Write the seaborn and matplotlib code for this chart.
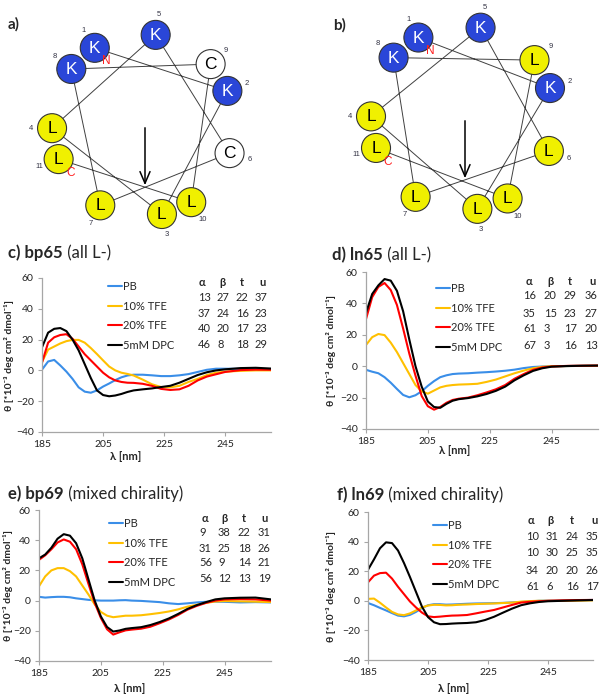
import numpy as np
import pandas as pd
import matplotlib
matplotlib.use("Agg")
import matplotlib.pyplot as plt
from matplotlib.patches import Circle
from matplotlib.lines import Line2D
import seaborn as sns

# ---------------- data ----------------
wavelength = [185, 187, 189, 191, 193, 195, 197, 199, 201, 203, 205, 207, 209, 211, 213,
              215, 218, 221, 224, 227, 230, 233, 236, 239, 242, 245, 250, 255, 260]
conditions = ["PB", "10% TFE", "20% TFE", "5mM DPC"]
cond_colors = ["#3a8ee8", "#ffc000", "#ff0000", "#000000"]

bp65_pb = [0.5, 5.8, 6.8, 3.2, -0.8, -5.5, -11, -13.8, -14.5, -13, -10.5, -8.5, -6.3, -4.5, -3.3,
           -2.8, -2.8, -3.2, -3.7, -3.7, -3.2, -2.4, -1, 0.4, 1.1, 1.1, 1, 0.9, 0.8]
bp65_tfe10 = [5.5, 13.5, 15.5, 17.5, 19, 19.8, 19.8, 18, 14.5, 10.6, 6.5, 2.5, 0, -1.5, -2.3,
              -3.3, -6, -9, -10.8, -11, -10, -7.5, -5.5, -3, -1.5, -0.8, -0.3, 0, 0]
bp65_tfe20 = [5, 18, 21.5, 23, 23.5, 20.5, 15.5, 10.5, 6.5, 2.5, -1.5, -4.5, -6.5, -7.5, -8,
              -8.1, -8.7, -10, -12, -12.7, -12.3, -10, -6.5, -4, -2.5, -1, 0.2, 0.5, 0.4]
bp65_dpc = [15, 24.5, 27, 27.5, 25.5, 20, 13, 4, -5, -13, -16, -16.8, -16.3, -15.3, -14,
            -13, -12.3, -11.7, -10.8, -10, -8, -5.5, -3, -1.2, 0, 0.7, 1.5, 1.7, 1.2]

ln65_pb = [-2.3, -3.5, -4.5, -7, -10.5, -14.5, -18.3, -19.8, -18.5, -16, -12.5, -9.5, -7, -5.8, -5,
           -4.7, -4.5, -4.1, -3.8, -3.4, -2.9, -2.2, -1.2, -0.5, -0.2, 0, 0.1, 0.2, 0.3]
ln65_tfe10 = [13.5, 18.5, 20.5, 19.8, 15, 9, 2, -5, -12, -16, -17.5, -15.5, -13.5, -12.5, -12,
              -11.7, -11.5, -11.2, -10, -8.5, -6.5, -4.5, -2.8, -1.3, -0.4, 0, 0.1, 0.2, 0.3]
ln65_tfe20 = [30, 44, 50.5, 53, 48.5, 39, 24, 8, -6, -19, -25.5, -27.7, -26, -23.3, -21.5,
              -20.7, -20, -18.5, -16.7, -14.7, -12, -8, -5, -2.3, -0.8, -0.2, 0.2, 0.3, 0.4]
ln65_dpc = [34, 46, 51.5, 55.5, 54.5, 48, 35, 17, 0, -13, -22.5, -26, -26.5, -24, -22,
            -21, -20.3, -19.2, -17.7, -15.7, -13, -9, -5.8, -3, -1.3, -0.3, 0.1, 0.3, 0.4]

bp69_pb = [2.5, 2, 2.3, 2.5, 2.5, 2.2, 1.5, 1, 0.5, 0.2, 0, 0, 0, 0.2, 0.3,
           0, -0.2, -0.6, -1, -1.8, -2.3, -1.8, -1.2, -0.8, -0.7, -0.8, -1.2, -1, -1.2]
bp69_tfe10 = [9.5, 16, 20, 21.5, 21.5, 19.5, 16, 10, 4, -2.5, -7.5, -10, -11, -10.5, -10,
              -10, -9.7, -9, -8.2, -7.2, -5.8, -4, -2.8, -1.5, -0.6, -0.3, -0.5, -0.7, -1]
bp69_tfe20 = [27, 30, 34, 38.5, 40.5, 39, 34, 24, 11, -1.5, -11.5, -19, -22.5, -21, -19.7,
              -19.2, -18.6, -17.3, -15, -12.5, -9.5, -6, -3.5, -1.5, 0, 0.8, 1, 0.8, 0]
bp69_dpc = [28, 30.5, 35, 41, 44, 43, 38, 28, 14, 0, -10.5, -17.5, -20.5, -19.8, -18.7,
            -18.2, -17.6, -16.2, -14.2, -11.8, -8.8, -5.5, -3, -1, 0.8, 1.5, 1.9, 2, 0.8]

ln69_pb = [-1.5, -3, -4.8, -6.5, -8.3, -10, -10.5, -9.5, -7.5, -4.8, -3, -2.3, -2.3, -2.6, -2.5,
           -2.3, -2, -1.8, -1.7, -1.6, -1.4, -1.1, -0.8, -0.4, 0, 0.1, 0.3, 0.4, 0.6]
ln69_tfe10 = [1.3, 1.5, -1.3, -4.5, -7.5, -9.2, -9.7, -8.5, -6.5, -4.5, -3.2, -2.7, -2.8, -3.1, -3,
              -2.7, -2.5, -2.2, -2, -1.8, -1.5, -1.2, -0.6, -0.2, 0, 0, 0, 0.1, 0.3]
ln69_tfe20 = [12.5, 17, 18.7, 19, 15, 9.5, 4.5, -0.5, -4.5, -8, -10.5, -11, -10.7, -10.3, -10,
              -9.9, -9.6, -8.5, -7.3, -6.2, -4.5, -2.8, -1.2, -0.7, -0.3, 0, 0.3, 0.5, 0.6]
ln69_dpc = [21, 28, 35.5, 39.5, 39, 34, 25.5, 16, 6, -4, -11, -14.5, -15.8, -15.7, -15.4,
            -15.2, -15, -14.5, -13, -10.8, -8, -5.3, -3, -1.7, -0.8, -0.3, 0, 0.3, 0.5]

table_header = ["α", "β", "t", "u"]
bp65_table = [[13, 27, 22, 37], [37, 24, 16, 23], [40, 20, 17, 23], [46, 8, 18, 29]]
ln65_table = [[16, 20, 29, 36], [35, 15, 23, 27], [61, 3, 17, 20], [67, 3, 16, 13]]
bp69_table = [[9, 38, 22, 31], [31, 25, 18, 26], [56, 9, 14, 21], [56, 12, 13, 19]]
ln69_table = [[10, 31, 24, 35], [10, 30, 25, 35], [34, 20, 20, 26], [61, 6, 16, 17]]

wheel_a_residues = ["K", "K", "L", "L", "K", "C", "L", "K", "C", "L", "L"]
wheel_b_residues = ["K", "K", "L", "L", "K", "L", "L", "K", "L", "L", "L"]
residue_fill = {"K": "#2a46d8", "L": "#f0f000", "C": "#ffffff"}
residue_text = {"K": "white", "L": "black", "C": "black"}

x_ticks = [185, 205, 225, 245]
y_ticks = [-40, -20, 0, 20, 40, 60]
ylabel_text = "θ [*10⁻³ deg cm² dmol⁻¹]"
xlabel_text = "λ [nm]"

# ---------------- style ----------------
sns.set_theme(style="white")
FONT = ["Lato", "DejaVu Sans"]
plt.rcParams["font.family"] = FONT

W, H = 600, 695
fig = plt.figure(figsize=(W / 100, H / 100), dpi=100)


def fx(x):
    return x / W


def fy(y):
    return 1 - y / H


# background axes in pixel coordinates for the helical wheels
bg = fig.add_axes([0, 0, 1, 1])
bg.set_xlim(0, W)
bg.set_ylim(H, 0)
bg.axis("off")


def draw_wheel(ax, residues, cx, cy, R, start, tag, tag_xy):
    n = len(residues)
    idx = np.arange(n)
    ang = np.deg2rad(start + 100 * idx)
    xs = cx + R * np.sin(ang)
    ys = cy - R * np.cos(ang)
    ax.plot(xs, ys, color="#404040", lw=0.7, zorder=1)
    for i in idx:
        res = residues[i]
        ax.add_patch(Circle((xs[i], ys[i]), 14.5, facecolor=residue_fill[res],
                            edgecolor="#333333", lw=0.8, zorder=2))
        ax.text(xs[i], ys[i] + 0.5, res, ha="center", va="center", fontsize=12.5,
                color=residue_text[res], family="Liberation Sans", zorder=3)
        nx = cx + (R + 21) * np.sin(ang[i])
        ny = cy - (R + 21) * np.cos(ang[i])
        ax.text(nx, ny, str(i + 1), ha="center", va="center", fontsize=5.5,
                color="#333344", family="Liberation Sans", zorder=3)
    ax.text(xs[0] + 12, ys[0] + 13, "N", ha="center", va="center", fontsize=8.5,
            color="#ff2020", family="Liberation Sans", zorder=4)
    ax.text(xs[-1] + 12, ys[-1] + 14, "C", ha="center", va="center", fontsize=8.5,
            color="#ff2020", family="Liberation Sans", zorder=4)
    ax.annotate("", xy=(cx + 2, cy + 63), xytext=(cx + 2, cy),
                arrowprops=dict(arrowstyle="->,head_length=0.7,head_width=0.3",
                                color="black", lw=1.1), zorder=4)
    ax.text(tag_xy[0], tag_xy[1], tag, ha="left", va="center", fontsize=11,
            fontweight="bold", family=FONT)


draw_wheel(bg, wheel_a_residues, 143, 125, 91, -32, "a)", (8, 24))
draw_wheel(bg, wheel_b_residues, 463, 118, 92, -29, "b)", (333, 25))

# ---------------- CD panels ----------------
panels = [
    dict(tag="c) bp65", note=" (all L-)", series=[bp65_pb, bp65_tfe10, bp65_tfe20, bp65_dpc],
         table=bp65_table, box=(42, 278, 271, 432), title=(8, 253),
         leg=(108, 281), cols=[198, 217, 236, 255], heads=[202, 222, 242, 262],
         rows=[298, 314, 329, 345], head_y=282, ylab_x=9, xlab=(126, 456)),
    dict(tag="d) ln65", note=" (all L-)", series=[ln65_pb, ln65_tfe10, ln65_tfe20, ln65_dpc],
         table=ln65_table, box=(366, 272, 598, 429), title=(332, 255),
         leg=(436, 283), cols=[523, 544, 564, 585], heads=[529, 550, 570, 592],
         rows=[296, 313, 329, 346], head_y=281, ylab_x=331, xlab=(455, 451)),
    dict(tag="e) bp69", note=" (mixed chirality)", series=[bp69_pb, bp69_tfe10, bp69_tfe20, bp69_dpc],
         table=bp69_table, box=(39, 510, 271, 661), title=(8, 494),
         leg=(109, 518), cols=[199, 218, 238, 258], heads=[205, 224, 244, 265],
         rows=[533, 548, 563, 579], head_y=518, ylab_x=8, xlab=(130, 688)),
    dict(tag="f) ln69", note=" (mixed chirality)", series=[ln69_pb, ln69_tfe10, ln69_tfe20, ln69_dpc],
         table=ln69_table, box=(368, 512, 593, 660), title=(337, 495),
         leg=(433, 520), cols=[526, 546, 566, 586], heads=[531, 551, 572, 594],
         rows=[536, 553, 570, 586], head_y=520, ylab_x=331, xlab=(454, 688)),
]

palette = dict(zip(conditions, cond_colors))
SPINE = "#a6a6a6"
FS = 8

for p in panels:
    l, t, r, b = p["box"]
    ax = fig.add_axes([fx(l), fy(b), fx(r) - fx(l), (b - t) / H])
    ax.set_facecolor("none")
    df = pd.DataFrame({
        "wavelength": wavelength * len(conditions),
        "theta": sum(p["series"], []),
        "condition": np.repeat(conditions, len(wavelength)),
    })
    sns.lineplot(data=df, x="wavelength", y="theta", hue="condition", hue_order=conditions,
                 palette=palette, estimator=None, sort=False, lw=1.5, legend=False, ax=ax)
    ax.set_xlim(185, 260)
    ax.set_ylim(-40, 60)
    ax.set_xticks(x_ticks)
    ax.set_yticks(y_ticks)
    for s in ["top", "right"]:
        ax.spines[s].set_visible(False)
    for s in ["left", "bottom"]:
        ax.spines[s].set_color(SPINE)
        ax.spines[s].set_linewidth(0.9)
    ax.tick_params(axis="both", which="major", direction="out", length=3, width=0.8,
                   color=SPINE, labelsize=7.5, labelcolor="#222222", pad=3,
                   bottom=True, left=True)
    ax.grid(False)

    ax.set_ylabel(ylabel_text, fontsize=7.5, fontweight="bold", va="center")
    ax.yaxis.set_label_coords(fx(p["ylab_x"]), fy((t + b) / 2), transform=fig.transFigure)
    ax.set_xlabel(xlabel_text, fontsize=8, fontweight="bold", va="center")
    ax.xaxis.set_label_coords(fx(p["xlab"][0]), fy(p["xlab"][1]), transform=fig.transFigure)

    handles = [Line2D([], [], color=c, lw=1.5) for c in cond_colors]
    ax.legend(handles, conditions, loc="upper left",
              bbox_to_anchor=(fx(p["leg"][0]), fy(p["leg"][1])), bbox_transform=fig.transFigure,
              frameon=False, fontsize=FS, handlelength=1.25, handletextpad=0.1,
              labelspacing=0.78, borderpad=0, borderaxespad=0)

    # title (bold name + normal note)
    tt = fig.text(fx(p["title"][0]), fy(p["title"][1]), p["tag"], ha="left", va="center",
                  fontsize=12, fontweight="bold")
    ax.annotate(p["note"], xy=(1, 0), xycoords=tt, ha="left", va="bottom",
                fontsize=12, annotation_clip=False)

    # composition table
    for hx, h in zip(p["heads"], table_header):
        fig.text(fx(hx), fy(p["head_y"]), h, ha="center", va="center",
                 fontsize=FS, fontweight="bold")
    for ry, row in zip(p["rows"], p["table"]):
        for cx, v in zip(p["cols"], row):
            fig.text(fx(cx), fy(ry), str(v), ha="left", va="center", fontsize=FS)

fig.savefig("out.png", dpi=100)
